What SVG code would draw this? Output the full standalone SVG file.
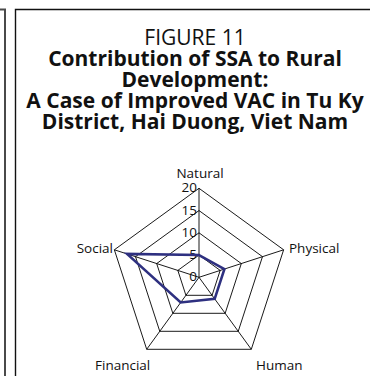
<svg xmlns="http://www.w3.org/2000/svg" width="370" height="376" viewBox="0 0 370 376">
<style>
.t{font-family:"Open Sans","Noto Sans","Liberation Sans",sans-serif;fill:#111;text-anchor:middle}
.h{font-size:21px}
.b{font-weight:bold}
.l{font-family:"Open Sans","Noto Sans","Liberation Sans",sans-serif;font-size:13.5px;fill:#111}
.g{fill:none;stroke:#000;stroke-width:0.9}
.d{fill:none;stroke:#2e3080;stroke-width:2.6;stroke-linejoin:miter}
</style>
<rect width="370" height="376" fill="#fff"/>
<g id="frame">
<path d="M0 9.5H5V376" fill="none" stroke="#4a4a4a" stroke-width="2"/>
<path d="M15.5 376V9.5H370" fill="none" stroke="#111" stroke-width="1.4"/>
</g>
<g id="title">
<text class="t h" x="195" y="45">FIGURE 11</text>
<text class="t h b" x="195" y="66">Contribution of SSA to Rural</text>
<text class="t h b" x="195" y="87">Development:</text>
<text class="t h b" x="195" y="108">A Case of Improved VAC in Tu Ky</text>
<text class="t h b" x="195" y="129">District, Hai Duong, Viet Nam</text>
</g>
<g id="grid">
<polygon class="g" points="199,188.3 283.64,249.8 251.31,349.3 146.69,349.3 114.36,249.8"/>
<polygon class="g" points="199,210.55 262.48,256.67 238.24,331.3 159.76,331.3 135.52,256.67"/>
<polygon class="g" points="199,232.8 241.32,263.55 225.16,313.3 172.84,313.3 156.68,263.55"/>
<polygon class="g" points="199,255.05 220.16,270.42 212.08,295.3 185.92,295.3 177.84,270.42"/>
<path class="g" d="M199 277.3L199 188.3M199 277.3L283.64 249.8M199 277.3L251.31 349.3M199 277.3L146.69 349.3M199 277.3L114.36 249.8"/>
</g>
<g id="ticks" class="l" text-anchor="end">
<text x="197" y="192.3">20</text>
<text x="197" y="214.6">15</text>
<text x="197" y="236.8">10</text>
<text x="197" y="259.1">5</text>
<text x="197" y="281.3">0</text>
</g>
<g id="axis-labels" class="l">
<text x="200" y="178" text-anchor="middle">Natural</text>
<text x="289" y="253">Physical</text>
<text x="256" y="370">Human</text>
<text x="95" y="370">Financial</text>
<text x="113" y="253" text-anchor="end">Social</text>
</g>
<g id="series">
<polygon class="d" points="199,255.05 224.39,269.05 214.69,298.9 180.69,302.5 127.05,253.92"/>
</g>
</svg>
